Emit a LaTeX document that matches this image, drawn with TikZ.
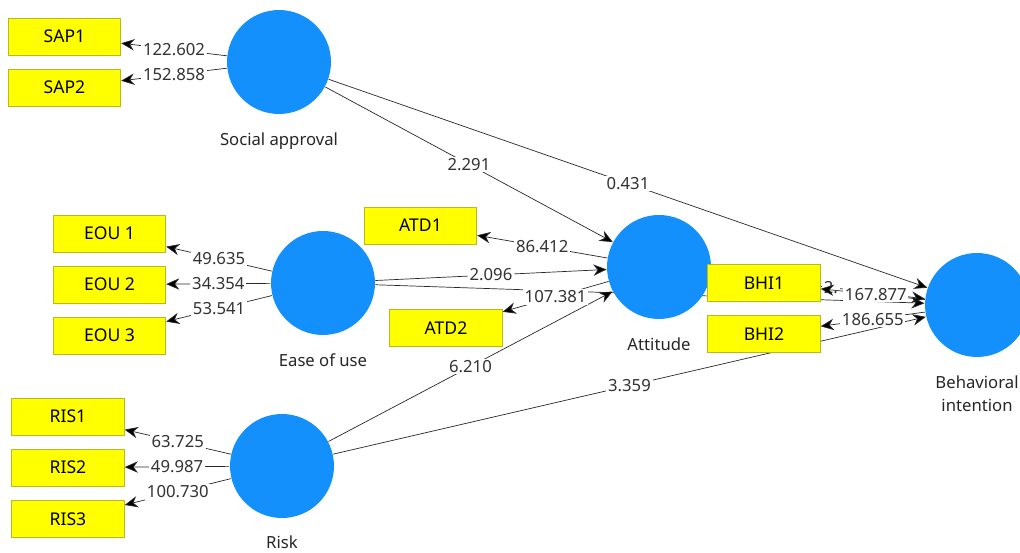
\documentclass[tikz,border=0pt]{standalone}
\usepackage{fontspec}
\setmainfont{Noto Sans}
\usetikzlibrary{arrows.meta,positioning}

\definecolor{latentblue}{RGB}{20,144,252}
\definecolor{itemyellow}{RGB}{255,255,0}
\definecolor{itemframe}{RGB}{185,185,30}
\definecolor{linkgray}{RGB}{40,40,40}

\pgfdeclarelayer{back}
\pgfsetlayers{back,main}

\begin{document}
\begin{tikzpicture}[
    x=0.02cm, y=-0.02cm,
    >={Stealth[length=7.5pt,width=6.5pt,fill=black]},
    font=\fontsize{9.5}{13}\selectfont,
    line width=0.6pt,
    latent/.style={circle, fill=latentblue, minimum size=2.08cm, inner sep=0pt},
    latentname/.style={align=center, text=black!85},
    item/.style={rectangle, draw=itemframe, fill=itemyellow, line width=0.5pt,
        minimum width=2.25cm, minimum height=0.74cm, inner sep=0pt,
        font=\fontsize{10}{12}\selectfont},
    link/.style={draw=linkgray, ->},
    coef/.style={fill=white, inner sep=1pt, text=black!80}
]

    \clip (0,0) rectangle (1020,553);

    % Constructs
    \node[latent] (SA)  at (279,62)  {};
    \node[latent] (EOU) at (323,283) {};
    \node[latent] (RIS) at (282,466) {};
    \node[latent] (ATT) at (659,267) {};
    \node[latent] (BI)  at (977,305) {};

    \node[latentname, below=7pt of SA]  (SAname)  {Social approval};
    \node[latentname, below=7pt of EOU] (EOUname) {Ease of use};
    \node[latentname, below=6pt of RIS] (RISname) {Risk};
    \node[latentname, below=7pt of ATT] (ATTname) {Attitude};
    \node[latentname, below=7pt of BI]  (BIname)  {Behavioral\\intention};

    % Indicators
    \node[item] (SAP1) at (64.5,36.5)  {SAP1};
    \node[item] (SAP2) at (64.5,87.5)  {SAP2};
    \node[item] (EOU1) at (109.5,233.5) {EOU 1};
    \node[item] (EOU2) at (109.5,284.5) {EOU 2};
    \node[item] (EOU3) at (109.5,335.5) {EOU 3};
    \node[item] (RIS1) at (68,416.5) {RIS1};
    \node[item] (RIS2) at (68,467.5) {RIS2};
    \node[item] (RIS3) at (68,519)   {RIS3};
    \node[item] (ATD1) at (420.5,225.5) {ATD1};
    \node[item] (ATD2) at (446,328)     {ATD2};
    \node[item] (BHI1) at (764,283) {BHI1};
    \node[item] (BHI2) at (764,334) {BHI2};

    \begin{pgfonlayer}{back}
        % Inner model
        \draw[link] (SA)  -- (ATT) node[coef, midway] {2.291};
        \draw[link] (SA)  -- (BI)  node[coef, midway] {0.431};
        \draw[link] (EOU) -- (ATT) node[coef, midway] {2.096};
        \draw[link] (EOU) -- (BI);
        \draw[link] (RIS) -- (ATT) node[coef, midway] {6.210};
        \draw[link] (RIS) -- (BI)  node[coef, midway] {3.359};
        \draw[link] (ATT) -- (BI)  node[coef, pos=0.56] {2.};

        % Outer model
        \draw[link] (SA)  -- (SAP1) node[coef, midway] {122.602};
        \draw[link] (SA)  -- (SAP2) node[coef, midway] {152.858};
        \draw[link] (EOU) -- (EOU1) node[coef, midway] {49.635};
        \draw[link] (EOU) -- (EOU2) node[coef, midway] {34.354};
        \draw[link] (EOU) -- (EOU3) node[coef, midway] {53.541};
        \draw[link] (RIS) -- (RIS1) node[coef, midway] {63.725};
        \draw[link] (RIS) -- (RIS2) node[coef, midway] {49.987};
        \draw[link] (RIS) -- (RIS3) node[coef, midway] {100.730};
        \draw[link] (ATT) -- (ATD1) node[coef, midway] {86.412};
        \draw[link] (ATT) -- (ATD2) node[coef, midway] {107.381};
        \draw[link] (BI)  -- (BHI1) node[coef, pos=0.47] {167.877};
        \draw[link] (BI)  -- (BHI2) node[coef, midway] {186.655};
    \end{pgfonlayer}

\end{tikzpicture}
\end{document}
